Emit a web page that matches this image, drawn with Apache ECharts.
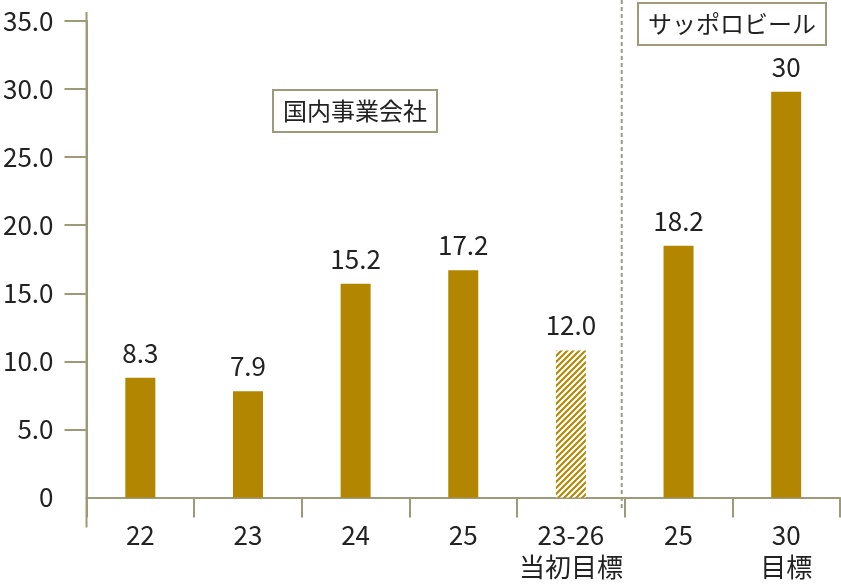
<!DOCTYPE html>
<html>
<head>
<meta charset="utf-8">
<script src="https://cdn.jsdelivr.net/npm/echarts@6/dist/echarts.min.js"></script>
<style>
  html, body { margin: 0; padding: 0; background: #fff; }
  #chart { width: 841px; height: 586px; }
</style>
</head>
<body>
<div id="chart"></div>
<script>
// values (bar heights as drawn, labels as printed)
const categories = ['22', '23', '24', '25', '23-26\n当初目標', '25', '30\n目標'];
const barHeights = [8.8, 7.8, 15.7, 16.7, 10.8, 18.5, 29.8];
const barLabels = ['8.3', '7.9', '15.2', '17.2', '12.0', '18.2', '30'];
const yLabelValues = [0, 5, 10, 15, 20, 25, 30, 35];
const yTickValues = [5, 10, 15, 20, 25, 30, 35];
const hatchedIndex = 4;
const groupNames = ['国内事業会社', 'サッポロビール'];

const GOLD = '#b38600';
const AXIS = '#9c9a78';
const TEXT = '#222';
const FONT = '"Noto Sans CJK JP", "Noto Sans", sans-serif';

// diagonal stripes for the initial target bar
function hatchPattern() {
  const s = 6;
  const c = document.createElement('canvas');
  c.width = s; c.height = s;
  const ctx = c.getContext('2d');
  ctx.fillStyle = '#fff';
  ctx.fillRect(0, 0, s, s);
  ctx.strokeStyle = GOLD;
  ctx.lineWidth = 2;
  ctx.beginPath();
  ctx.moveTo(-1, s + 1); ctx.lineTo(s + 1, -1);
  ctx.moveTo(-s / 2 - 1, s / 2 + 1); ctx.lineTo(s / 2 + 1, -s / 2 - 1);
  ctx.moveTo(s / 2 - 1, s * 1.5 + 1); ctx.lineTo(s * 1.5 + 1, s / 2 - 1);
  ctx.stroke();
  return c;
}

const chart = echarts.init(document.getElementById('chart'), null, { renderer: 'canvas' });

const barData = barHeights.map((v, i) => {
  const item = { value: v, label: { formatter: barLabels[i] } };
  if (i === hatchedIndex) item.itemStyle = { color: { image: hatchPattern(), repeat: 'repeat' } };
  return item;
});

const boxTitle = (text, left, top) => ({
  text,
  left,
  top,
  padding: [8, 10],
  borderColor: AXIS,
  borderWidth: 2,
  backgroundColor: '#fff',
  textStyle: { fontFamily: FONT, fontSize: 24, fontWeight: 'normal', color: TEXT, lineHeight: 26 },
});

chart.setOption({
  animation: false,
  backgroundColor: '#fff',
  textStyle: { fontFamily: FONT },
  title: [boxTitle(groupNames[0], 273, 90), boxTitle(groupNames[1], 638, 3)],
  grid: { left: 86, right: 1, top: 21, bottom: 88.5, containLabel: false },
  xAxis: {
    type: 'category',
    data: categories,
    boundaryGap: true,
    axisLine: { lineStyle: { color: AXIS, width: 2 } },
    axisTick: { show: true, interval: 0, length: 20, lineStyle: { color: AXIS, width: 2 } },
    axisLabel: { interval: 0, fontFamily: FONT, fontSize: 26, lineHeight: 32, margin: 22, color: TEXT },
  },
  yAxis: {
    type: 'value',
    min: 0,
    max: 35,
    interval: 5,
    splitLine: { show: false },
    axisLine: { show: true, lineStyle: { color: AXIS, width: 2 } },
    axisTick: {
      show: true,
      inside: false,
      length: 22,
      customValues: yTickValues,
      lineStyle: { color: AXIS, width: 2 },
    },
    axisLabel: {
      fontFamily: FONT,
      fontSize: 26,
      margin: 33,
      color: TEXT,
      customValues: yLabelValues,
      formatter: (v) => (v === 0 ? '0' : v.toFixed(1)),
    },
  },
  series: [
    {
      type: 'bar',
      data: barData,
      barWidth: 30,
      itemStyle: { color: GOLD },
      label: { show: true, position: 'top', distance: 12, fontFamily: FONT, fontSize: 26, color: TEXT },
    },
  ],
});

// extended y axis line and the dashed divider between groups
const c0 = chart.convertToPixel({ xAxisIndex: 0 }, 0);
const c1 = chart.convertToPixel({ xAxisIndex: 0 }, 1);
const bw = c1 - c0;
const axisX = c0 - bw / 2;
const divX = chart.convertToPixel({ xAxisIndex: 0 }, hatchedIndex) + bw / 2 - 3;
const yTop = chart.convertToPixel({ yAxisIndex: 0 }, 35);
const yZero = chart.convertToPixel({ yAxisIndex: 0 }, 0);

chart.setOption({
  graphic: [
    {
      type: 'line',
      silent: true,
      shape: { x1: axisX, y1: yTop - 9, x2: axisX, y2: yZero + 30 },
      style: { stroke: AXIS, lineWidth: 2 },
    },
    {
      type: 'line',
      silent: true,
      z: -1,
      shape: { x1: divX, y1: 0, x2: divX, y2: yZero + 13 },
      style: { stroke: '#9a9a8c', lineWidth: 2, lineDash: [4, 3] },
    },
  ],
});
</script>
</body>
</html>
